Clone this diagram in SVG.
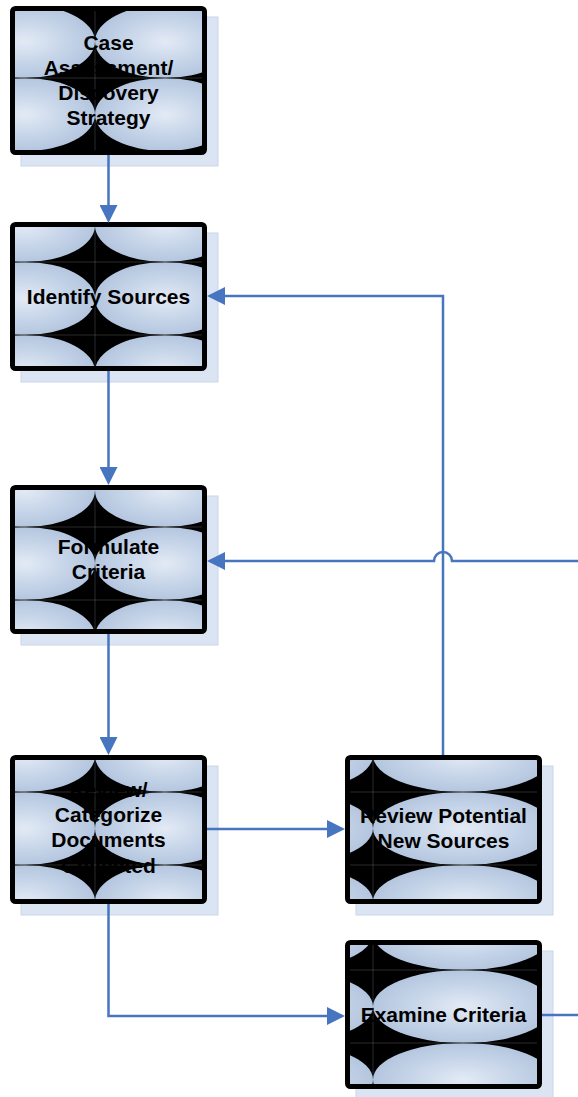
<svg xmlns="http://www.w3.org/2000/svg" width="578" height="1097" viewBox="0 0 578 1097">
<style>
.shadow{fill:#dbe4f2;stroke:#c9d6ea;stroke-width:1}
.bg{fill:#000}
.ell{fill:url(#lg)}
.seam{stroke:#2b2b2b;stroke-width:1}
.vseam{stroke:#9aa8bd;stroke-width:0.5;opacity:0.5}
.border{fill:none;stroke:#000;stroke-width:5}
.lbl{font-family:"Liberation Sans",Arial,sans-serif;font-weight:bold;font-size:21px;fill:#000;text-anchor:middle}
.conn{fill:none;stroke:#4775c0;stroke-width:2.5}
</style>
<defs>
<radialGradient id="lg" cx="0.5" cy="0.5" r="0.5">
<stop offset="0" stop-color="#e3eaf5"/>
<stop offset="0.6" stop-color="#c5d4e8"/>
<stop offset="1" stop-color="#b4c6df"/>
</radialGradient>
<marker id="arr" markerUnits="userSpaceOnUse" markerWidth="18" markerHeight="18" viewBox="0 0 18 18" refX="15" refY="9" orient="auto">
<path d="M0,0 L18,9 L0,18 z" fill="#4775c0"/>
</marker>
<clipPath id="c1"><rect x="15" y="11" width="187" height="139"/></clipPath>
<clipPath id="c2"><rect x="15" y="227" width="187" height="139"/></clipPath>
<clipPath id="c3"><rect x="15" y="490" width="187" height="139"/></clipPath>
<clipPath id="c4"><rect x="15" y="760" width="187" height="139"/></clipPath>
<clipPath id="c5"><rect x="350" y="760" width="187" height="139"/></clipPath>
<clipPath id="c6"><rect x="350" y="945" width="187" height="139"/></clipPath>
</defs>

<g id="node-case-assessment">
<rect class="shadow" x="21" y="17" width="197" height="149"/>
<g clip-path="url(#c1)">
<rect class="bg" x="15" y="11" width="187" height="139"/>
<ellipse class="ell" cx="25" cy="41.5" rx="70" ry="36.5"/>
<ellipse class="ell" cx="165" cy="41.5" rx="70" ry="36.5"/>
<ellipse class="ell" cx="25" cy="114.5" rx="70" ry="36.5"/>
<ellipse class="ell" cx="165" cy="114.5" rx="70" ry="36.5"/>
<line class="seam" x1="15" y1="78" x2="202" y2="78"/>
<line class="vseam" x1="95" y1="11" x2="95" y2="150"/>
</g>
<rect class="border" x="12.5" y="8.5" width="192" height="144" rx="3"/>
<text class="lbl" x="108.5" y="49.7">Case</text>
<text class="lbl" x="108.5" y="74.9">Assessment/</text>
<text class="lbl" x="108.5" y="100.1">Discovery</text>
<text class="lbl" x="108.5" y="125.3">Strategy</text>
</g>

<g id="node-identify-sources">
<rect class="shadow" x="21" y="233" width="197" height="149"/>
<g clip-path="url(#c2)">
<rect class="bg" x="15" y="227" width="187" height="139"/>
<ellipse class="ell" cx="25" cy="225.5" rx="70" ry="36.5"/>
<ellipse class="ell" cx="165" cy="225.5" rx="70" ry="36.5"/>
<ellipse class="ell" cx="25" cy="298.5" rx="70" ry="36.5"/>
<ellipse class="ell" cx="165" cy="298.5" rx="70" ry="36.5"/>
<ellipse class="ell" cx="25" cy="371.5" rx="70" ry="36.5"/>
<ellipse class="ell" cx="165" cy="371.5" rx="70" ry="36.5"/>
<line class="seam" x1="15" y1="262" x2="202" y2="262"/>
<line class="seam" x1="15" y1="335" x2="202" y2="335"/>
<line class="vseam" x1="95" y1="227" x2="95" y2="366"/>
</g>
<rect class="border" x="12.5" y="224.5" width="192" height="144" rx="3"/>
<text class="lbl" x="108.5" y="303.5">Identify Sources</text>
</g>

<g id="node-formulate-criteria">
<rect class="shadow" x="21" y="496" width="197" height="149"/>
<g clip-path="url(#c3)">
<rect class="bg" x="15" y="490" width="187" height="139"/>
<ellipse class="ell" cx="25" cy="490.5" rx="70" ry="36.5"/>
<ellipse class="ell" cx="165" cy="490.5" rx="70" ry="36.5"/>
<ellipse class="ell" cx="25" cy="563.5" rx="70" ry="36.5"/>
<ellipse class="ell" cx="165" cy="563.5" rx="70" ry="36.5"/>
<ellipse class="ell" cx="25" cy="636.5" rx="70" ry="36.5"/>
<ellipse class="ell" cx="165" cy="636.5" rx="70" ry="36.5"/>
<line class="seam" x1="15" y1="527" x2="202" y2="527"/>
<line class="seam" x1="15" y1="600" x2="202" y2="600"/>
<line class="vseam" x1="95" y1="490" x2="95" y2="629"/>
</g>
<rect class="border" x="12.5" y="487.5" width="192" height="144" rx="3"/>
<text class="lbl" x="108.5" y="554">Formulate</text>
<text class="lbl" x="108.5" y="579.2">Criteria</text>
</g>

<g id="node-review-categorize">
<rect class="shadow" x="21" y="766" width="197" height="149"/>
<g clip-path="url(#c4)">
<rect class="bg" x="15" y="760" width="187" height="139"/>
<ellipse class="ell" cx="25" cy="755.5" rx="70" ry="36.5"/>
<ellipse class="ell" cx="165" cy="755.5" rx="70" ry="36.5"/>
<ellipse class="ell" cx="25" cy="828.5" rx="70" ry="36.5"/>
<ellipse class="ell" cx="165" cy="828.5" rx="70" ry="36.5"/>
<ellipse class="ell" cx="25" cy="901.5" rx="70" ry="36.5"/>
<ellipse class="ell" cx="165" cy="901.5" rx="70" ry="36.5"/>
<line class="seam" x1="15" y1="792" x2="202" y2="792"/>
<line class="seam" x1="15" y1="865" x2="202" y2="865"/>
<line class="vseam" x1="95" y1="760" x2="95" y2="899"/>
</g>
<rect class="border" x="12.5" y="757.5" width="192" height="144" rx="3"/>
<text class="lbl" x="108.5" y="797">Review/</text>
<text class="lbl" x="108.5" y="822.2">Categorize</text>
<text class="lbl" x="108.5" y="847.4">Documents</text>
<text class="lbl" x="108.5" y="872.6">Collected</text>
</g>

<g id="node-review-potential">
<rect class="shadow" x="356" y="766" width="197" height="149"/>
<g clip-path="url(#c5)">
<rect class="bg" x="350" y="760" width="187" height="139"/>
<ellipse class="ell" cx="283" cy="755.5" rx="90" ry="36.5"/>
<ellipse class="ell" cx="463" cy="755.5" rx="90" ry="36.5"/>
<ellipse class="ell" cx="283" cy="828.5" rx="90" ry="36.5"/>
<ellipse class="ell" cx="463" cy="828.5" rx="90" ry="36.5"/>
<ellipse class="ell" cx="283" cy="901.5" rx="90" ry="36.5"/>
<ellipse class="ell" cx="463" cy="901.5" rx="90" ry="36.5"/>
<line class="seam" x1="350" y1="792" x2="537" y2="792"/>
<line class="seam" x1="350" y1="865" x2="537" y2="865"/>
<line class="vseam" x1="373" y1="760" x2="373" y2="899"/>
</g>
<rect class="border" x="347.5" y="757.5" width="192" height="144" rx="3"/>
<text class="lbl" x="443.5" y="823">Review Potential</text>
<text class="lbl" x="443.5" y="848.4">New Sources</text>
</g>

<g id="node-examine-criteria">
<rect class="shadow" x="356" y="951" width="197" height="149"/>
<g clip-path="url(#c6)">
<rect class="bg" x="350" y="945" width="187" height="139"/>
<ellipse class="ell" cx="283" cy="933.5" rx="90" ry="36.5"/>
<ellipse class="ell" cx="463" cy="933.5" rx="90" ry="36.5"/>
<ellipse class="ell" cx="283" cy="1006.5" rx="90" ry="36.5"/>
<ellipse class="ell" cx="463" cy="1006.5" rx="90" ry="36.5"/>
<ellipse class="ell" cx="283" cy="1079.5" rx="90" ry="36.5"/>
<ellipse class="ell" cx="463" cy="1079.5" rx="90" ry="36.5"/>
<line class="seam" x1="350" y1="970" x2="537" y2="970"/>
<line class="seam" x1="350" y1="1043" x2="537" y2="1043"/>
<line class="vseam" x1="373" y1="945" x2="373" y2="1084"/>
</g>
<rect class="border" x="347.5" y="942.5" width="192" height="144" rx="3"/>
<text class="lbl" x="443.5" y="1022">Examine Criteria</text>
</g>

<g id="connectors">
<path class="conn" marker-end="url(#arr)" d="M108.5,155 V220"/>
<path class="conn" marker-end="url(#arr)" d="M108.5,371 V482"/>
<path class="conn" marker-end="url(#arr)" d="M108.5,634 V752"/>
<path class="conn" marker-end="url(#arr)" d="M207,829 H342"/>
<path class="conn" marker-end="url(#arr)" d="M108.5,904 V1016 H342"/>
<path class="conn" marker-end="url(#arr)" d="M443,755 V296 H210"/>
<path class="conn" marker-end="url(#arr)" d="M542,1015 H600 V561 H452 A9,9 0 0 0 434,561 H210"/>
</g>
</svg>
